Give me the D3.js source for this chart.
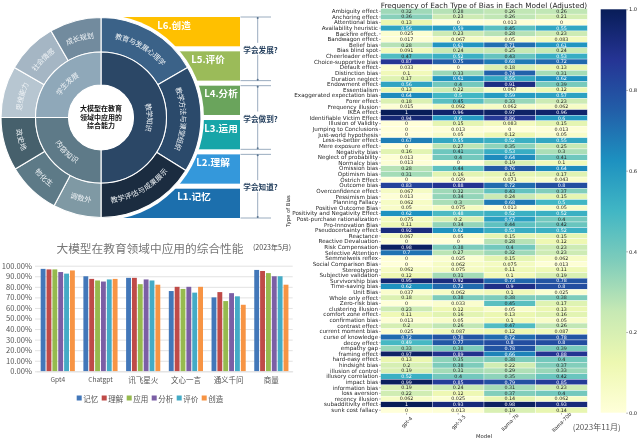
<!DOCTYPE html>
<html><head><meta charset="utf-8">
<script src="https://cdn.jsdelivr.net/npm/d3@7"></script>
<style>
html,body{margin:0;padding:0;background:#fff;overflow:hidden}
svg{display:block;filter:blur(0.3px)}
text{font-family:"Noto Sans CJK SC","Noto Sans",sans-serif}
.dj text,text.dj{font-family:"DejaVu Sans",sans-serif}
</style></head><body>
<svg id="c" width="640" height="441" viewBox="0 0 640 441"></svg>
<script>
// ---------- wheel data ----------
const coreText = ["大模型在教育","领域中应用的","综合能力"];
const innerNames = ["教学知识","内容知识","学生发展"];
const innerShares = [180,90,90];
const innerFlip = [false,true,false];
const outerNames = ["教育与发展心理学","教学方法与课堂组织","教学评估与成果展示","调数外","物化生","政史地","思维能力","社会情感","成长规划"];
const outerShares = [60,62,58,28,31,31,30,30,30];
const outerFlip = [false,false,true,true,true,true,false,false,false];
const innerColors = ["#2b4766","#5e7a88","#8fa8b9"];
const outerColors = ["#3b6288","#2b4a6b","#1b2c40","#7f99a4","#5d7a87","#46606c","#b7c6d1","#a5b6c4","#728b9e"];
// ---------- level data ----------
const levels = ["L6.创造","L5.评价","L4.分析","L3.运用","L2.理解","L1.记忆"];
const levelColors = ["#ffc000","#9bbb59","#6aa45c","#17a5a8","#3498db","#1c6fad"];
const levelLabelX = [174,208,221,221,213,194];
const groupNames = ["学会发展?","学会做到?","学会知道?"];
const groupSpans = [[0,1],[2,3],[4,5]];
// ---------- bar data ----------
const barModels = ["Gpt4","Chatgpt","讯飞星火","文心一言","通义千问","商量"];
const barSkills = ["记忆","理解","应用","分析","评价","创造"];
const barColors = ["#4277b9","#bf4b48","#96ba4e","#7b5fa5","#44abc6","#f79444"];
const scoreGpt4 = [97,96.5,96.5,94,92.5,95.5];
const scoreChatgpt = [90,87.5,86,85,87,87.5];
const scoreXunfei = [88.5,88.5,82.5,87,86,82];
const scoreWenxin = [76,80,78,80,74.5,80];
const scoreTongyi = [70,75,66.5,74,71,63];
const scoreShangliang = [96,95,93,90,90,82];
const barScores = [scoreGpt4,scoreChatgpt,scoreXunfei,scoreWenxin,scoreTongyi,scoreShangliang];
// ---------- heatmap data ----------
const biasModels = ["gpt-4","gpt-3.5","llama-7b","llama-70b"];
const biasNames = ["Ambiguity effect","Anchoring effect","Attentional bias","Availability heuristic","Backfire effect.","Bandwagon effect","Belief bias","Bias blind spot","Cheerleader effect","Choice-supportive bias","Default effect","Distinction bias","Duration neglect","Endowment effect","Essentialism","Exaggerated expectation bias","Forer effect","Frequency illusion","IKEA effect","Identifiable Victim Effect","Illusion of Validity","Jumping to Conclusions","Just-world hypothesis","Less-is-better effect","Mere exposure effect","Negativity bias","Neglect of probability","Normalcy bias","Omission bias","Optimism bias","Ostrich Effect","Outcome bias","Overconfidence effect","Pessimism bias","Planning Fallacy","Positive Outcome Bias","Positivity and Negativity Effect","Post-purchase rationalization","Pro-Innovation Bias","Pseudocertainty effect","Reactance","Reactive Devaluation","Risk Compensation","Selective Attention","Semmelweis reflex","Social Comparison Bias","Stereotyping","Subjective validation","Survivorship bias","Time-saving bias","Unit Bias","Whole only effect","Zero-risk bias","clustering illusion","comfort zone effect","confirmation bias","contrast effect","current moment bias","curse of knowledge","decoy effect","empathy gap","framing effect","hard-easy effect","hindsight bias","illusion of control","illusory correlation","impact bias","information bias","loss aversion","recency illusion","subadditivity effect","sunk cost fallacy"];
const biasGpt4 = [.32,.36,.13,.56,.025,.017,.28,.091,.47,.87,.033,.1,.17,.56,.13,.64,.18,.015,1,.94,0,0,0,.67,0,.16,.013,.013,.28,.31,0,.83,.067,.013,.062,.05,.62,.075,.11,.92,.067,0,.98,.7,0,0,.062,.12,.95,.62,.037,.18,0,.23,.11,.013,.2,.025,.72,.49,.33,.97,.13,.2,.19,.52,.99,.19,.22,.062,1,0];
const biasGpt35 = [.28,.23,0,.59,.23,.067,.61,.24,.52,.75,0,.33,.61,.4,.22,.5,.45,.092,.96,.6,.15,.013,.05,.55,.27,.41,.4,0,.44,.16,.029,.88,.32,.34,.3,.075,.48,.2,.34,.62,.05,0,.38,.27,.025,.062,.075,.31,.92,.72,.062,.38,.033,.12,.16,.05,.26,.087,.78,.77,.38,.89,.35,.38,.31,.4,.85,.24,.12,.025,.93,.013];
const biasLlama7 = [.26,.26,.013,.45,.28,.05,.71,.25,.43,.68,.18,.74,.55,.91,.067,.59,.33,.062,.97,.86,.083,0,.12,.52,.35,.53,.64,.19,.76,.15,.071,.72,.43,.24,.68,.013,.52,.57,.44,.53,.15,.28,.4,.32,.15,.075,.11,.1,.73,.9,.1,.38,.45,.05,.13,.1,.47,.12,.72,.8,.78,.66,.38,.22,.29,.35,.79,.31,.37,.14,.98,.19];
const biasLlama70 = [.26,.21,0,.55,.23,.083,.61,.24,.53,.72,.13,.31,.62,.39,.12,.57,.23,.062,.96,.6,.15,.013,.05,.55,.25,.3,.41,.1,.64,.17,.043,.8,.37,.15,.5,.05,.52,.4,.42,.52,.15,.12,.23,.23,.062,.013,.11,.19,.78,.8,.025,.38,.17,.13,.16,.05,.26,.087,.78,.8,.39,.88,.4,.37,.33,.42,.85,.23,.4,.062,.93,.14];
const biasValues = [biasGpt4,biasGpt35,biasLlama7,biasLlama70];
const colorbarTicks = [0,.2,.4,.6,.8,1];

const svg = d3.select("#c");

// ================= LEVEL STAIR ===============
const lv = svg.append("g");
const levelTop = 17, levelBottom = 218;
const yLevel = d3.scaleBand().domain(levels).range([levelTop,levelBottom]).paddingInner(.147);
lv.selectAll("rect").data(levels).join("rect")
  .attr("x",110).attr("width",130)
  .attr("y",d=>yLevel(d)).attr("height",yLevel.bandwidth())
  .attr("fill",(d,i)=>levelColors[i]);
lv.selectAll("text").data(levels).join("text")
  .attr("x",(d,i)=>levelLabelX[i]).attr("y",d=>yLevel(d)+7.5).attr("text-anchor","middle")
  .attr("dominant-baseline","central").attr("font-size",9.6).attr("font-weight",700)
  .attr("fill","#fff").text(d=>d);
// ================= WHEEL ===============
const cx=101, cy=117.5, rCore=32.5, rInner=65.5, rOuter=100, rMask=103;
const wheel = svg.append("g").attr("transform",`translate(${cx},${cy})`);
wheel.append("circle").attr("r",rMask).attr("fill","#fff");
const pie = d3.pie().sort(null).value(d=>d);
const drawRing = (shares,colors,names,flips,r0,r1,fs,pre)=>{
  const arcs = pie(shares);
  const gen = d3.arc().innerRadius(r0).outerRadius(r1);
  wheel.append("g").selectAll("path").data(arcs).join("path")
    .attr("d",gen).attr("fill",(d,i)=>colors[i]).attr("stroke","#fff").attr("stroke-width",1.1);
  const rm=(r0+r1)/2;
  const defs = svg.append("defs");
  arcs.forEach((a,i)=>{
    const p=d3.path();
    if(flips[i]) p.arc(0,0,rm,a.endAngle-Math.PI/2,a.startAngle-Math.PI/2,true);
    else p.arc(0,0,rm,a.startAngle-Math.PI/2,a.endAngle-Math.PI/2,false);
    defs.append("path").attr("id",pre+i).attr("d",p.toString());
    wheel.append("text").attr("font-size",fs).attr("fill","#eef2f5").attr("dominant-baseline","central")
      .append("textPath").attr("href","#"+pre+i).attr("startOffset","50%").attr("text-anchor","middle").text(names[i]);
  });
};
drawRing(outerShares,outerColors,outerNames,outerFlip,rInner,rOuter,7.2,"o");
drawRing(innerShares,innerColors,innerNames,innerFlip,rCore,rInner,7.2,"i");
wheel.append("circle").attr("r",rCore).attr("fill","#fff");
wheel.append("g").selectAll("text").data(coreText).join("text")
  .attr("text-anchor","middle").attr("y",(d,i)=>(i-1)*8.6-1).attr("dominant-baseline","central")
  .attr("font-size",7).attr("font-weight",700).attr("fill","#111").text(d=>d);
// brackets
const br = svg.append("g").attr("stroke","#8fa3b8").attr("stroke-width",.9).attr("fill","none");
groupSpans.forEach((s,i)=>{
  const a=yLevel(levels[s[0]]), b=yLevel(levels[s[1]])+yLevel.bandwidth();
  br.append("line").attr("x1",240.5).attr("x2",271).attr("y1",a).attr("y2",a);
  br.append("line").attr("x1",240.5).attr("x2",271).attr("y1",b).attr("y2",b);
  br.append("line").attr("x1",257.7).attr("x2",257.7).attr("y1",a).attr("y2",b);
  [a+1,b-1].forEach(y=>br.append("circle").attr("cx",257.7).attr("cy",y).attr("r",1).attr("fill","#5a7490").attr("stroke","none"));
  svg.append("rect").attr("x",241).attr("y",(a+b)/2-6).attr("width",39).attr("height",12).attr("fill","#fff");
  svg.append("text").attr("x",260.5).attr("y",(a+b)/2+.5).attr("text-anchor","middle").attr("dominant-baseline","central")
    .attr("font-size",7.6).attr("font-weight",700).attr("fill","#26415f").text(groupNames[i]);
});

// ================= BAR CHART ===============
const bar = svg.append("g");
const xBar = d3.scaleBand().domain(barModels).range([36.4,292.7]).paddingInner(.2).paddingOuter(.1);
const xSkill = d3.scaleBand().domain(barSkills).range([0,xBar.bandwidth()]).paddingInner(.17);
const yBar = d3.scaleLinear().domain([0,100]).range([371.3,265.7]);
const pct = d3.format(".2f");
bar.append("g").attr("transform","translate(35,0)")
  .call(d3.axisLeft(yBar).tickValues(d3.range(0,101,10)).tickSize(-257.7).tickFormat(d=>pct(d)+"%"))
  .call(g=>g.select(".domain").remove())
  .call(g=>g.selectAll("line").attr("stroke","#e2e2e2").attr("stroke-width",1))
  .call(g=>g.selectAll("text").attr("font-family","'Liberation Sans',sans-serif").attr("font-size",7.6).attr("fill","#555").attr("x",-3));
bar.append("g").selectAll("g").data(barModels).join("g")
  .attr("transform",d=>`translate(${xBar(d)},0)`)
  .each(function(m,mi){
    d3.select(this).selectAll("rect").data(barScores[mi]).join("rect")
      .attr("x",(v,i)=>xSkill(barSkills[i])).attr("width",xSkill.bandwidth())
      .attr("y",v=>yBar(v)).attr("height",v=>yBar(0)-yBar(v)).attr("fill",(v,i)=>barColors[i]);
  });
bar.append("g").attr("transform","translate(0,371.3)")
  .call(d3.axisBottom(xBar).tickSize(0).tickPadding(6))
  .call(g=>g.select(".domain").attr("stroke","#e2e2e2"))
  .call(g=>g.selectAll("text").attr("font-family","'Noto Sans CJK SC',sans-serif").attr("font-size",(d,i)=>i<2?6.6:7.5).attr("fill","#555"));
const legendX = d3.scalePoint().domain(barSkills).range([76.7,201.7]);
const lg = bar.append("g").selectAll("g").data(barSkills).join("g").attr("transform",d=>`translate(${legendX(d)},395.5)`);
lg.append("rect").attr("width",5).attr("height",5).attr("fill",(d,i)=>barColors[i]);
lg.append("text").attr("x",6.5).attr("y",2.8).attr("dominant-baseline","central").attr("font-size",7.5).attr("fill","#555").text(d=>d);
svg.append("text").attr("x",150).attr("y",247).attr("text-anchor","middle").attr("dominant-baseline","central")
  .attr("font-family","'Noto Serif CJK SC','Noto Sans CJK SC',serif").attr("font-size",11.7).attr("fill","#777").text("大模型在教育领域中应用的综合性能");
svg.append("text").attr("x",253).attr("y",247).attr("dominant-baseline","central").attr("font-size",7).attr("fill","#444").text("(2023年5月)");

// ================= HEATMAP ===============
const hm = svg.append("g").attr("class","dj");
const xH = d3.scaleBand().domain(biasModels).range([380.7,587.3]);
const yH = d3.scaleBand().domain(biasNames).range([8.5,413]);
const cmap = d3.scaleSequential(d3.piecewise(d3.interpolateRgb,d3.schemeYlGnBu[9])).domain([0,1]);
const lum = c => { const r=d3.rgb(c); const f=v=>{v/=255;return v<=.03928?v/12.92:Math.pow((v+.055)/1.055,2.4)}; return .2126*f(r.r)+.7152*f(r.g)+.0722*f(r.b); };
biasModels.forEach((m,mi)=>{
  const col = hm.append("g");
  const cells = biasValues[mi].map((v,i)=>({v,name:biasNames[i]}));
  col.selectAll("rect").data(cells).join("rect")
    .attr("x",xH(m)).attr("width",xH.bandwidth()).attr("y",d=>yH(d.name)).attr("height",yH.bandwidth())
    .attr("fill",d=>cmap(d.v)).attr("stroke","#fff").attr("stroke-width",.35);
  col.selectAll("text").data(cells).join("text")
    .attr("x",xH(m)+xH.bandwidth()/2).attr("y",d=>yH(d.name)+yH.bandwidth()/2).attr("text-anchor","middle").attr("dominant-baseline","central")
    .attr("font-size",4.8).attr("fill",d=>lum(cmap(d.v))<.408?"#fff":"#262626").text(d=>String(d.v));
});
hm.append("g").attr("transform","translate(380.7,0)")
  .call(d3.axisLeft(yH).tickSize(1.6).tickPadding(1))
  .call(g=>g.select(".domain").remove())
  .call(g=>g.selectAll("line").attr("stroke","#333").attr("stroke-width",.4))
  .call(g=>g.selectAll("text").attr("font-family","'DejaVu Sans',sans-serif").attr("font-size",5.6).attr("fill","#262626"));
hm.append("g").attr("transform","translate(0,413)")
  .call(d3.axisBottom(xH).tickSize(1.6).tickPadding(0))
  .call(g=>g.select(".domain").remove())
  .call(g=>g.selectAll("line").attr("stroke","#333").attr("stroke-width",.4))
  .call(g=>g.selectAll("text").attr("font-family","'DejaVu Sans',sans-serif").attr("font-size",5).attr("fill","#262626")
     .attr("text-anchor","middle").attr("dy",0).attr("y",0).attr("dominant-baseline","central")
     .attr("transform",()=>"translate(0,9) rotate(-45)"));
svg.append("text").attr("class","dj").attr("x",484).attr("y",436).attr("text-anchor","middle").attr("dominant-baseline","central").attr("font-size",5.3).attr("fill","#262626").text("Model");
svg.append("text").attr("class","dj").attr("transform","translate(287.5,211) rotate(-90)").attr("text-anchor","middle").attr("dominant-baseline","central").attr("font-size",5.3).attr("fill","#262626").text("Type of Bias");
svg.append("text").attr("class","dj").attr("x",484).attr("y",5).attr("text-anchor","middle").attr("dominant-baseline","central").attr("font-size",7.3).attr("fill","#262626").text("Frequency of Each Type of Bias in Each Model (Adjusted)");
// colorbar
const yCb = d3.scaleLinear().domain([0,1]).range([412.7,9.3]);
const grad = svg.append("defs").append("linearGradient").attr("id","cb").attr("x1",0).attr("x2",0).attr("y1",1).attr("y2",0);
d3.schemeYlGnBu[9].forEach((c,i)=>grad.append("stop").attr("offset",i/8).attr("stop-color",c));
svg.append("rect").attr("x",600.7).attr("width",25.6).attr("y",yCb(1)).attr("height",yCb(0)-yCb(1)).attr("fill","url(#cb)");
svg.append("g").attr("class","dj").attr("transform","translate(626.3,0)")
  .call(d3.axisRight(yCb).tickValues(colorbarTicks).tickSize(1.6).tickPadding(1).tickFormat(d3.format(".1f")))
  .call(g=>g.select(".domain").remove())
  .call(g=>g.selectAll("line").attr("stroke","#333").attr("stroke-width",.4))
  .call(g=>g.selectAll("text").attr("font-family","'DejaVu Sans',sans-serif").attr("font-size",5.2).attr("fill","#262626"));
svg.append("text").attr("x",572.7).attr("y",426.5).attr("dominant-baseline","central").attr("font-size",8).attr("fill","#555").text("(2023年11月)");
</script></body></html>
